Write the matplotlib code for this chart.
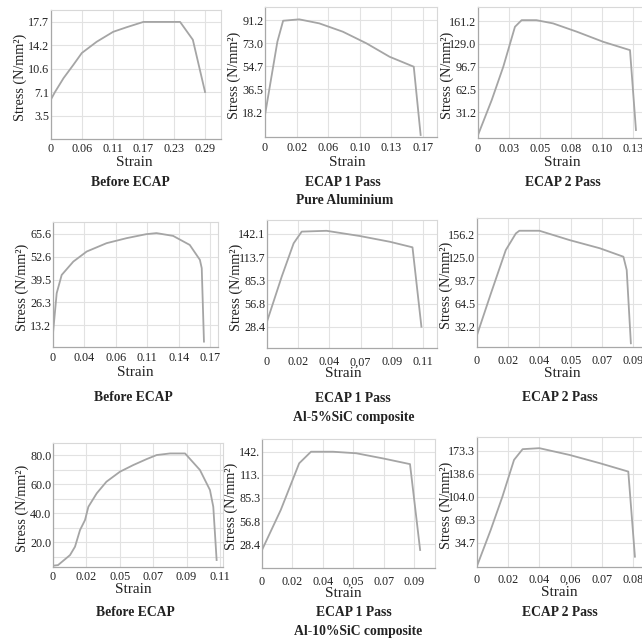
import matplotlib
matplotlib.use('Agg')
import matplotlib.pyplot as plt
import numpy as np
from matplotlib.transforms import Affine2D

# ---------------- data ----------------
# Pure Aluminium
pa0_strain = [0, 0.0075, 0.0236, 0.042, 0.058, 0.086, 0.117, 0.1425, 0.174, 0.243, 0.267, 0.29]
pa0_stress = [6.0, 7.1, 9.2, 11.2, 13.0, 14.7, 16.2, 16.9, 17.7, 17.7, 15.0, 7.1]
pa1_strain = [0, 0.0133, 0.0195, 0.0368, 0.0584, 0.0837, 0.109, 0.134, 0.160, 0.1674]
pa1_stress = [15.9, 74.0, 90.7, 91.8, 88.6, 82.0, 72.8, 62.1, 54.2, 0.0]
pa2_strain = [0, 0.0115, 0.0212, 0.031, 0.0366, 0.049, 0.063, 0.083, 0.105, 0.1275, 0.1325]
pa2_stress = [0.0, 49.4, 96.5, 153.0, 162.4, 162.4, 157.8, 146.0, 131.8, 120.0, 7.0]
# Al-5%SiC composite
s5a_strain = [0, 0.004, 0.0094, 0.022, 0.0365, 0.058, 0.0797, 0.101, 0.112, 0.130, 0.148, 0.159, 0.161, 0.1634]
s5a_stress = [8.5, 31.5, 42.0, 49.7, 55.5, 60.3, 63.2, 65.5, 66.1, 64.5, 59.3, 50.7, 45.9, 3.6]
s5b_strain = [0, 0.0104, 0.0188, 0.0245, 0.042, 0.0656, 0.0867, 0.1027, 0.109]
s5b_stress = [35.0, 90.0, 130.7, 145.0, 146.0, 139.6, 132.6, 125.8, 28.7]
s5c_strain = [0, 0.008, 0.0166, 0.0224, 0.0244, 0.036, 0.0534, 0.0708, 0.0844, 0.0863, 0.0887]
s5c_stress = [20.0, 76.0, 134.6, 157.0, 160.6, 160.6, 148.0, 137.0, 125.6, 107.7, 8.9]
# Al-10%SiC composite
s10a_strain = [0, 0.0033, 0.0112, 0.0145, 0.0178, 0.0211, 0.0233, 0.0288, 0.0352, 0.0441, 0.0529,
               0.0617, 0.0683, 0.0771, 0.0870, 0.0968, 0.1034, 0.1056, 0.1078]
s10a_stress = [3.7, 4.1, 11.0, 16.8, 28.3, 35.2, 44.3, 53.6, 61.6, 68.5, 73.1,
               77.2, 80.0, 81.1, 81.1, 69.7, 55.9, 44.3, 7.6]
s10b_strain = [0, 0.0111, 0.022, 0.029, 0.042, 0.0558, 0.0717, 0.0876, 0.0936]
s10b_stress = [21.0, 70.4, 128.0, 142.3, 142.3, 140.4, 134.0, 127.0, 21.0]
s10c_strain = [0, 0.007, 0.013, 0.019, 0.0234, 0.032, 0.0475, 0.063, 0.0776, 0.081]
s10c_stress = [0.0, 54.0, 104.0, 159.6, 175.7, 177.2, 167.0, 154.6, 142.0, 14.0]

# tick labels
pa0_xt = ['0', '0.06', '0.11', '0.17', '0.23', '0.29']
pa0_yt = ['3.5', '7.1', '10.6', '14.2', '17.7']
pa1_xt = ['0', '0.02', '0.06', '0.10', '0.13', '0.17']
pa1_yt = ['18.2', '36.5', '54.7', '73.0', '91.2']
pa2_xt = ['0', '0.03', '0.05', '0.08', '0.10', '0.13']
pa2_yt = ['31.2', '62.5', '96.7', '129.0', '161.2']
s5a_xt = ['0', '0.04', '0.06', '0.11', '0.14', '0.17']
s5a_yt = ['13.2', '26.3', '39.5', '52.6', '65.6']
s5b_xt = ['0', '0.02', '0.04', '0,07', '0.09', '0.11']
s5b_yt = ['28.4', '56.8', '85.3', '113.7', '142.1']
s5c_xt = ['0', '0.02', '0.04', '0.05', '0.07', '0.09']
s5c_yt = ['32.2', '64.5', '93.7', '125.0', '156.2']
s10a_xt = ['0', '0.02', '0.05', '0.07', '0.09', '0.11']
s10a_yt = ['20.0', '40.0', '60.0', '80.0']
s10b_xt = ['0', '0.02', '0.04', '0,05', '0.07', '0.09']
s10b_yt = ['28.4', '56.8', '85.3', '113.', '142.']
s10c_xt = ['0', '0.02', '0.04', '0,06', '0.07', '0.08']
s10c_yt = ['34.7', '69.3', '104.0', '138.6', '173.3']

stage_titles = ['Before ECAP', 'ECAP 1 Pass', 'ECAP 2 Pass']
group_titles = ['Pure Aluminium', 'Al-5%SiC composite', 'Al-10%SiC composite']

# ---------------- layout ----------------
W, H = 642, 644
plt.rcParams['font.family'] = ['Liberation Serif', 'DejaVu Serif']

fig = plt.figure(figsize=(W / 100, H / 100), dpi=100)
fig.patch.set_facecolor('white')
pix = Affine2D().scale(1.0 / W, -1.0 / H).translate(0, 1) + fig.transFigure

panels = [
    (pa0_strain, pa0_stress, pa0_xt, pa0_yt),
    (pa1_strain, pa1_stress, pa1_xt, pa1_yt),
    (pa2_strain, pa2_stress, pa2_xt, pa2_yt),
    (s5a_strain, s5a_stress, s5a_xt, s5a_yt),
    (s5b_strain, s5b_stress, s5b_xt, s5b_yt),
    (s5c_strain, s5c_stress, s5c_xt, s5c_yt),
    (s10a_strain, s10a_stress, s10a_xt, s10a_yt),
    (s10b_strain, s10b_stress, s10b_xt, s10b_yt),
    (s10c_strain, s10c_stress, s10c_xt, s10c_yt),
]
# pixel boxes (left, top, right, bottom)
boxes = [(51, 10, 221, 139), (265, 7, 437, 137), (478, 7, 648, 138),
         (53, 222, 218, 347), (267, 220, 437, 348), (477, 218, 647, 347),
         (53, 443, 223, 567), (262, 439, 435, 568), (477, 437, 647, 567)]
xlims = [0.320, 0.185, 0.1426, 0.1786, 0.120, 0.098, 0.112, 0.1024, 0.0872]
ylims = [(0, 19.5), (-1.6, 101.6), (-4.2, 181), (0.5, 72.5), (2.7, 159.2),
         (3.9, 177.8), (2.8, 88.3), (-1.2, 158), (-1.5, 194)]
xpads = [4, 5, 5, 5, 8.5, 8.5, 4, 8, 7]
strain_pos = [(134, 163), (347, 163), (562, 163), (135, 373), (343, 374), (562, 374),
              (133, 590), (343, 594), (559, 593)]
title_pos = [(130, 182), (343, 182), (563, 182), (133, 398), (353, 399), (560, 398),
             (135, 613), (354, 613), (560, 613)]
group_pos = [(345, 200), (354, 418), (358, 632)]

grid_c = '#e2e2e2'
curve_c = '#a5a5a5'

for i, ((xs, ys, xt, yt), (L, T, R, B)) in enumerate(zip(panels, boxes)):
    ax = fig.add_axes([L / W, 1 - B / H, (R - L) / W, (B - T) / H])
    ax.set_facecolor('white')
    ax.plot(xs, ys, color=curve_c, lw=1.3, solid_joinstyle='round')
    ax.set_xlim(0, xlims[i])
    ax.set_ylim(*ylims[i])
    xtop = float(xt[-1].replace(',', '.'))
    ax.set_xticks(np.linspace(0, xtop, len(xt)), xt)
    ytop = float(yt[-1].rstrip('.'))
    n = len(yt)
    ax.set_yticks(np.linspace(ytop / n, ytop, n), yt)
    if i == 6:
        ax.set_yticks(np.linspace(ytop / n, ytop, n) - ytop / n / 2, minor=True)
        ax.grid(True, which='minor', axis='y', color=grid_c, lw=0.8)
        ax.tick_params(which='minor', length=0)
    ax.grid(True, which='major', color=grid_c, lw=0.8)
    ax.set_axisbelow(True)
    ax.tick_params(axis='both', length=0, labelsize=8.7, colors='#222222')
    ax.tick_params(axis='x', pad=xpads[i] / 1.389)
    ax.tick_params(axis='y', pad=1.2)
    for s in ['top', 'right']:
        ax.spines[s].set_color('#d8d8d8')
        ax.spines[s].set_linewidth(0.8)
    for s in ['left', 'bottom']:
        ax.spines[s].set_color('#a8a8a8')
        ax.spines[s].set_linewidth(0.9)
    ax.set_xlabel('Strain', fontsize=11, color='#222222')
    ax.xaxis.label.set_va('center')
    ax.xaxis.set_label_coords(strain_pos[i][0], strain_pos[i][1], transform=pix)
    ax.set_ylabel('Stress (N/mm²)', fontsize=10.2, color='#222222')
    ax.yaxis.label.set_va('center')
    ax.yaxis.label.set_ha('center')
    ax.yaxis.set_label_coords(L - 31, (T + B) / 2 + 3, transform=pix)
    fig.text(title_pos[i][0], title_pos[i][1], stage_titles[i % 3], transform=pix,
             ha='center', va='center', fontsize=9.8, fontweight='bold', color='#222222')

for g, (gx, gy) in zip(group_titles, group_pos):
    fig.text(gx, gy, g, transform=pix, ha='center', va='center',
             fontsize=9.8, fontweight='bold', color='#222222')

fig.savefig('out.png', dpi=100, facecolor='white')
